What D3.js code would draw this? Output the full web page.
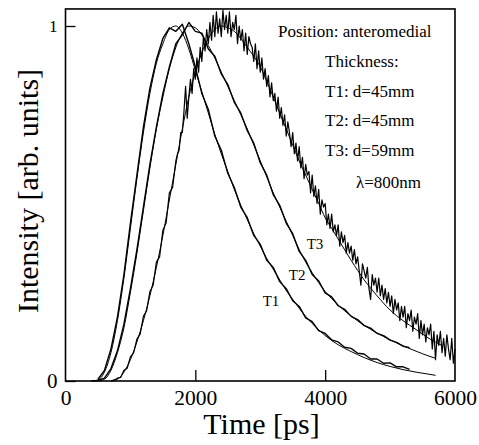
<!DOCTYPE html>
<html>
<head>
<meta charset="utf-8">
<script src="https://cdn.jsdelivr.net/npm/d3@7"></script>
<style>
  body { margin: 0; background: #fff; }
  svg text { font-family: "Liberation Serif", "Times New Roman", serif; fill: #000; }
  .fit { fill: none; stroke: #000; stroke-width: 1; }
  .meas { fill: none; stroke: #000; stroke-width: 1.4; stroke-linejoin: round; }
</style>
</head>
<body>
<svg id="chart" width="479" height="445"></svg>
<script>
// ---- data ----
const xTicks = [0, 2000, 4000, 6000];
const yTicks = [0, 1];

const fitTime12 = [400, 500, 600, 700, 800, 900, 1000, 1100, 1200, 1300, 1400, 1500, 1600, 1700, 1800, 1900,
  2000, 2100, 2200, 2300, 2400, 2500, 2600, 2700, 2800, 2900, 3000, 3100, 3200, 3300, 3400, 3500, 3600, 3700,
  3800, 3900, 4000, 4100, 4200, 4400, 4600, 4800, 5000, 5200, 5400, 5600, 5700];
const fitT1 = [0, 0.003, 0.025, 0.08, 0.17, 0.29, 0.43, 0.57, 0.7, 0.81, 0.895, 0.95, 0.99, 1.0, 0.98, 0.935,
  0.875, 0.815, 0.755, 0.695, 0.64, 0.59, 0.54, 0.495, 0.455, 0.415, 0.38, 0.345, 0.315, 0.285, 0.255, 0.23, 0.205,
  0.182, 0.162, 0.144, 0.128, 0.114, 0.102, 0.083, 0.066, 0.052, 0.041, 0.032, 0.025, 0.019, 0.016];
const fitT2 = [0, 0, 0.005, 0.03, 0.08, 0.15, 0.25, 0.36, 0.48, 0.6, 0.71, 0.8, 0.88, 0.94, 0.98, 1.0,
  0.995, 0.975, 0.945, 0.91, 0.87, 0.83, 0.79, 0.75, 0.71, 0.665, 0.62, 0.575, 0.53, 0.49, 0.45, 0.41, 0.37,
  0.335, 0.305, 0.277, 0.252, 0.232, 0.214, 0.183, 0.157, 0.135, 0.116, 0.099, 0.084, 0.07, 0.064];

const fitTime3 = [700, 800, 900, 1000, 1100, 1200, 1300, 1400, 1500, 1600, 1700, 1800, 1900, 2000, 2100, 2200,
  2300, 2400, 2500, 2600, 2700, 2800, 2900, 3000, 3100, 3200, 3300, 3400, 3500, 3600, 3700, 3800, 3900, 4000,
  4100, 4200, 4400, 4600, 4800, 5000, 5200, 5400, 5600, 5800];
const fitT3 = [0, 0.005, 0.025, 0.06, 0.11, 0.17, 0.24, 0.32, 0.41, 0.51, 0.61, 0.71, 0.8, 0.87, 0.925, 0.965,
  0.99, 1.0, 0.995, 0.985, 0.965, 0.94, 0.915, 0.885, 0.845, 0.8, 0.755, 0.71, 0.665, 0.62, 0.58, 0.54, 0.5, 0.46,
  0.43, 0.4, 0.34, 0.285, 0.24, 0.2, 0.17, 0.145, 0.12, 0.1];

// measured T1/T2, sampled every 100 ps from 500 to 5300 ps
const measTime12 = d3.range(500, 5301, 100);
const measT1 = [0.005, 0.03, 0.09, 0.18, 0.3, 0.445, 0.58, 0.715, 0.825, 0.905, 0.965, 0.995, 0.985, 1.005, 0.95,
  0.885, 0.81, 0.765, 0.69, 0.65, 0.585, 0.545, 0.49, 0.46, 0.41, 0.385, 0.34, 0.32, 0.28, 0.26, 0.226, 0.21,
  0.178, 0.167, 0.142, 0.134, 0.116, 0.11, 0.095, 0.092, 0.078, 0.076, 0.062, 0.062, 0.05, 0.051, 0.04, 0.04, 0.033];
const measT2 = [0.002, 0.008, 0.035, 0.085, 0.16, 0.26, 0.37, 0.49, 0.61, 0.715, 0.81, 0.885, 0.95, 0.975, 1.01,
  0.985, 0.98, 0.935, 0.915, 0.865, 0.835, 0.785, 0.755, 0.705, 0.67, 0.615, 0.58, 0.525, 0.495, 0.445, 0.415,
  0.365, 0.34, 0.3, 0.282, 0.248, 0.237, 0.212, 0.202, 0.182, 0.173, 0.156, 0.149, 0.134, 0.128, 0.115, 0.109,
  0.098, 0.094];

// measured T3 (noisy): every 50 ps up to 1650, then every 25 ps to 6000
const measTime3 = d3.range(700, 1700, 50).concat(d3.range(1700, 6001, 25));
const measT3 = [
  0, 0.003, 0.008, 0.01, 0.03, 0.036, 0.068, 0.08, 0.118, 0.132,
  0.182, 0.198, 0.252, 0.27, 0.335, 0.35, 0.425, 0.445, 0.53, 0.545,
  0.62, 0.64, 0.65, 0.70,   0.70, 0.76, 0.83, 0.74,   0.80, 0.85, 0.81, 0.88,
  0.85, 0.91, 0.87, 0.94,   0.90, 0.97, 0.93, 0.99,   0.95, 1.01, 0.96, 1.03,
  0.97, 1.04, 0.98, 1.02,   0.97, 1.045, 0.99, 1.03,  0.98, 1.04, 0.97, 1.01,
  0.99, 1.03, 0.95, 1.0,    0.96, 0.99, 0.93, 0.98,   0.92, 0.97, 0.95, 0.94,
  0.90, 0.95, 0.88, 0.93,   0.87, 0.91, 0.85, 0.88,   0.83, 0.86, 0.80, 0.84,
  0.79, 0.81, 0.76, 0.80,   0.74, 0.77, 0.72, 0.75,   0.69, 0.73, 0.70, 0.66,
  0.70, 0.64, 0.67, 0.62,   0.66, 0.60, 0.63, 0.57,   0.61, 0.58, 0.59, 0.53,
  0.58, 0.52, 0.55, 0.50,   0.54, 0.47, 0.51, 0.49,   0.50, 0.44, 0.47, 0.43,
  0.47, 0.42, 0.44, 0.41,   0.44, 0.38, 0.42, 0.39,   0.41, 0.36, 0.39, 0.36,
  0.38, 0.34, 0.37, 0.33,   0.35, 0.31, 0.27, 0.33,   0.31, 0.29, 0.32, 0.26,
  0.23, 0.30, 0.27, 0.29,   0.25, 0.29, 0.24, 0.27,   0.23, 0.26, 0.22, 0.25,
  0.21, 0.24, 0.19, 0.23,   0.20, 0.22, 0.17, 0.21,   0.18, 0.21, 0.15, 0.19,
  0.17, 0.20, 0.14, 0.18,   0.16, 0.19, 0.12, 0.17,   0.13, 0.16, 0.11, 0.15,
  0.13, 0.16, 0.09, 0.14,   0.06, 0.13, 0.10, 0.14,   0.08, 0.12, 0.07, 0.13,
  0.09, 0.06, 0.12, 0.05,   0.09];

const curveLabels = ["T1", "T2", "T3"];
const labelTime = [3166, 3567, 3844];
const labelValue = [0.225, 0.3, 0.386];

const infoLines = ["Thickness:", "T1: d=45mm", "T2: d=45mm", "T3: d=59mm"];

// ---- drawing ----
const svg = d3.select("#chart");
const x = d3.scaleLinear().domain([0, 6000]).range([65.5, 455]);
const y = d3.scaleLinear().domain([0, 1]).range([381, 26]);
const yTop = y(1.048);

const zip = (ts, vs) => ts.map((t, i) => [t, vs[i]]);
const line = d3.line().x((d) => x(d[0])).y((d) => y(d[1]));
const smooth = d3.line().x((d) => x(d[0])).y((d) => y(d[1])).curve(d3.curveMonotoneX);

//fits
[[fitTime12, fitT1], [fitTime12, fitT2], [fitTime3, fitT3]].forEach(([ts, vs]) => {
  svg.append("path").classed("fit", true).attr("d", smooth(zip(ts, vs)));
});

//measured
[[measTime12, measT1], [measTime12, measT2]].forEach(([ts, vs]) => {
  svg.append("path").classed("meas", true).attr("d", line(zip(ts, vs)));
});
svg.append("path").classed("meas", true).style("stroke-width", 1.2)
  .attr("d", line(zip(measTime3, measT3)));

//frame
svg.append("rect")
  .attr("x", x(0)).attr("y", yTop)
  .attr("width", x(6000) - x(0)).attr("height", y(0) - yTop)
  .attr("fill", "none").attr("stroke", "#000").attr("stroke-width", 1.6);

//axes
const xAxis = svg.append("g")
  .attr("transform", `translate(0,${y(0)})`)
  .call(d3.axisBottom(x).tickValues(xTicks).tickSize(-11).tickFormat(d3.format("d")));
xAxis.select(".domain").remove();
xAxis.selectAll("line").attr("stroke", "#000").attr("stroke-width", 1.3)
  .filter((d) => d === 0 || d === 6000).remove();
xAxis.selectAll("text").attr("font-size", 21.5).attr("font-family", null)
  .attr("y", 24).attr("dy", null);

const yAxis = svg.append("g")
  .attr("transform", `translate(${x(0)},0)`)
  .call(d3.axisLeft(y).tickValues(yTicks).tickSize(-10).tickPadding(8).tickFormat(d3.format("d")));
yAxis.select(".domain").remove();
yAxis.selectAll("line").attr("stroke", "#000").attr("stroke-width", 1.3);
yAxis.selectAll("text").attr("font-family", null).attr("font-size", (d) => (d === 0 ? 21 : 17));

//axis titles
svg.append("text")
  .attr("x", 261.5).attr("y", 434)
  .attr("text-anchor", "middle").attr("font-size", 30)
  .text("Time [ps]");
svg.append("text")
  .attr("transform", "translate(38,191) rotate(-90)")
  .attr("text-anchor", "middle").attr("font-size", 30)
  .text("Intensity [arb. units]");

//curve labels
svg.selectAll(".clabel").data(curveLabels).join("text")
  .attr("x", (d, i) => x(labelTime[i])).attr("y", (d, i) => y(labelValue[i]))
  .attr("dy", "0.35em")
  .attr("text-anchor", "middle").attr("font-size", 15)
  .text((d) => d);

//annotations
svg.append("text").attr("x", 278).attr("y", 37).attr("font-size", 17).text("Position: anteromedial");
svg.selectAll(".info").data(infoLines).join("text")
  .attr("x", 325).attr("y", (d, i) => 67 + i * 29.7)
  .attr("font-size", 17)
  .text((d) => d);
svg.append("text").attr("x", 356).attr("y", 188).attr("font-size", 17).text("λ=800nm");
</script>
</body>
</html>
